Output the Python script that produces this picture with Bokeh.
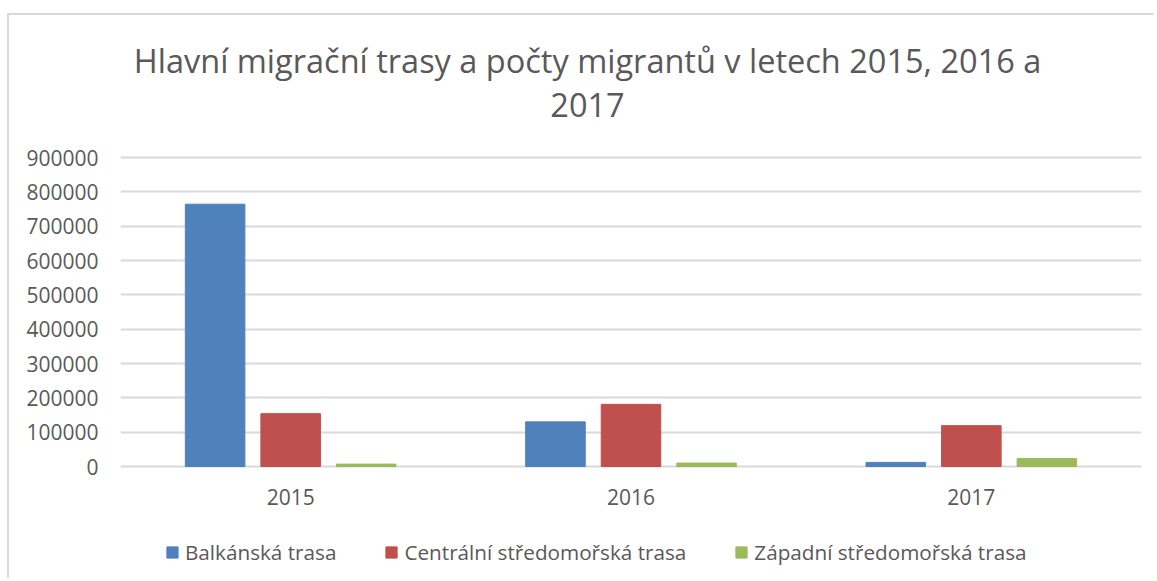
from bokeh.plotting import figure
from bokeh.models import (FactorRange, Range1d, ColumnDataSource, Legend, LegendItem,
                          Label, FixedTicker, NumeralTickFormatter)
from bokeh.transform import dodge
from bokeh.embed import file_html
from bokeh.resources import INLINE

# ---- data ----
years = ["2015", "2016", "2017"]
series = ["Balkánská trasa", "Centrální středomořská trasa", "Západní středomořská trasa"]
balkan = [764000, 130000, 12000]
central = [154000, 181000, 119000]
western = [7000, 10000, 23000]
y_ticks = [0, 100000, 200000, 300000, 400000, 500000, 600000, 700000, 800000, 900000]
title_line1 = "Hlavní migrační trasy a počty migrantů v letech 2015, 2016 a"
title_line2 = "2017"

colors = ["#4F81BD", "#C0504D", "#9BBB59"]
TXT = "#595959"
FONT = "Open Sans"

source = ColumnDataSource(dict(year=years, b=balkan, c=central, w=western))

# ---- layout (page pixels) ----
OX, OY = 9, 15                  # canvas origin on the page
W, H = 1147, 565
FRAME_L, FRAME_R = 120, 1141    # plot area left / right
Y0_PAGE, YMAX_PAGE = 466, 157   # page y of value 0 and of top tick
Y_MAX = y_ticks[-1]
px_per = (Y0_PAGE - YMAX_PAGE) / Y_MAX
y_lo = -(OY + H - Y0_PAGE) / px_per
y_hi = Y_MAX + (YMAX_PAGE - OY) / px_per

p = figure(x_range=FactorRange(*years, range_padding=0), y_range=Range1d(y_lo, y_hi),
           width=W, height=H, output_backend="svg", toolbar_location=None,
           title=None, min_border_left=FRAME_L - OX, min_border_right=OX + W - FRAME_R,
           min_border_top=0, min_border_bottom=0)
p.margin = (13, 0, 0, 7)
p.styles = {"border-left": "2px solid #d9d9d9", "border-top": "2px solid #d9d9d9"}
p.outline_line_color = None
p.background_fill_color = "white"
p.border_fill_color = "white"

cols = ["b", "c", "w"]
offsets = [-0.222, 0.0, 0.222]
rs = []
for col, off, colr in zip(cols, offsets, colors):
    r = p.vbar(x=dodge("year", off, range=p.x_range), top=col, width=0.175,
               source=source, fill_color=colr, line_color=colr)
    rs.append(r)

# axes
p.yaxis.ticker = FixedTicker(ticks=y_ticks)
p.yaxis.formatter = NumeralTickFormatter(format="0")
p.xaxis.fixed_location = 0
for ax in (p.xaxis, p.yaxis):
    ax.axis_line_color = None
    ax.major_tick_line_color = None
    ax.minor_tick_line_color = None
    ax.major_tick_out = 0
    ax.major_tick_in = 0
    ax.major_label_text_font = FONT
    ax.major_label_text_font_size = "21px"
    ax.major_label_text_color = TXT
p.yaxis.major_label_standoff = 22
p.xaxis.major_label_standoff = 22

p.xgrid.grid_line_color = None
p.ygrid.grid_line_color = "#d9d9d9"
p.ygrid.grid_line_width = 2

# legend (inside the extended frame, below the axis labels)
legend = Legend(items=[LegendItem(label=s, renderers=[r]) for s, r in zip(series, rs)],
                orientation="horizontal", location=(165 - FRAME_L, OY + H - 566),
                glyph_width=14, glyph_height=14, label_standoff=6, spacing=48,
                padding=0, margin=0, border_line_color=None, background_fill_alpha=0,
                label_text_font=FONT, label_text_font_size="20.7px",
                label_text_color=TXT)
p.add_layout(legend)

# two-line title
title_x = (587 - FRAME_L) / ((FRAME_R - FRAME_L) / len(years))
for txt, py in ((title_line1, 60), (title_line2, 104)):
    p.add_layout(Label(x=title_x, y=(Y0_PAGE - py) / px_per, text=txt,
                       text_align="center", text_baseline="middle",
                       text_font=FONT, text_font_size="32.5px", text_color=TXT))

open("out.html", "w").write(file_html(p, INLINE))
